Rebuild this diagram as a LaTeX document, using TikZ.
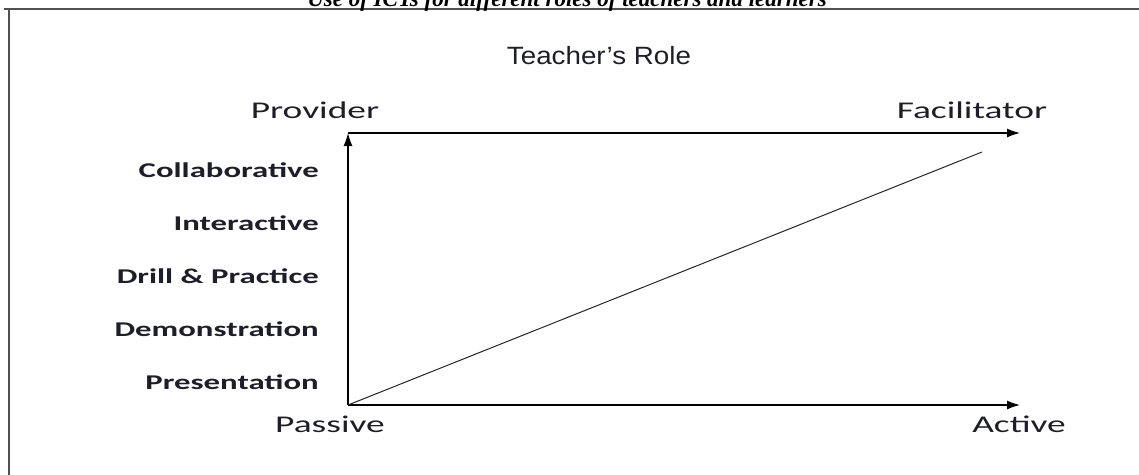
\documentclass[tikz,border=0pt]{standalone}
\usepackage{fontspec}
\setmainfont{Liberation Serif}
\newfontfamily\calfont[FakeStretch=1.56]{Carlito}
\newfontfamily\arfont[FakeStretch=1.11]{Liberation Sans}
\usetikzlibrary{arrows.meta, positioning}
\definecolor{tink}{HTML}{1E1E2A}
\definecolor{tframe}{HTML}{505050}
\tikzset{
  axis/.style={-{Latex[length=13pt,width=9pt]}, draw=black, line width=1.3pt},
  trend/.style={draw=black!85, line width=1pt},
  level/.style={font=\calfont\bfseries\fontsize{21}{24}\selectfont, text=tink, inner sep=0pt},
  pole/.style={font=\calfont\fontsize{24}{28}\selectfont, text=tink, inner sep=0pt, anchor=base},
  frameline/.style={draw=tframe, line width=2pt}
}
\begin{document}
\begin{tikzpicture}[x=1pt, y=-1pt, node distance=53pt]
  \useasboundingbox (0,0) rectangle (1139,474);
  % box round the figure, cut at right and bottom
  \draw[frameline] (4,9) -- (1150,9);
  \draw[frameline] (9,9) -- (9,490);
  \node[font=\bfseries\itshape\fontsize{23}{26}\selectfont, anchor=base, inner sep=0pt] (caption) at (567,6) {Use of ICTs for different roles of teachers and learners};
  \node[font=\arfont\fontsize{25}{30}\selectfont, text=tink, anchor=base, inner sep=0pt] (title) at (599,64.5) {Teacher’s Role};
  % axes
  \coordinate (origin) at (348,405);
  \coordinate (ytop) at (348,133);
  \coordinate (topend) at (1020,133);
  \coordinate (xend) at (1020,405);
  \coordinate (trendend) at (982,152);
  \draw[axis] (origin) -- (ytop);
  \draw[axis] (ytop) -- (topend);
  \draw[axis] (origin) -- (xend);
  \draw[trend] (origin) -- (trendend);
  % axis ends
  \node[pole] (provider) at (315,118) {Provider};
  \node[pole] (facil) at (972,118) {Facilitator};
  \node[pole] (passive) at (330,432) {Passive};
  \node[pole] (active) at (1019,432) {Active};
  % uses of ICT
  \node[level, anchor=east] (collab) at (319,170) {Collaborative};
  \node[level, below=of collab.east, anchor=east] (inter) {Interactive};
  \node[level, below=of inter.east, anchor=east] (drill) {Drill \& Practice};
  \node[level, below=of drill.east, anchor=east] (demo) {Demonstration};
  \node[level, below=of demo.east, anchor=east] (present) {Presentation};
\end{tikzpicture}
\end{document}
